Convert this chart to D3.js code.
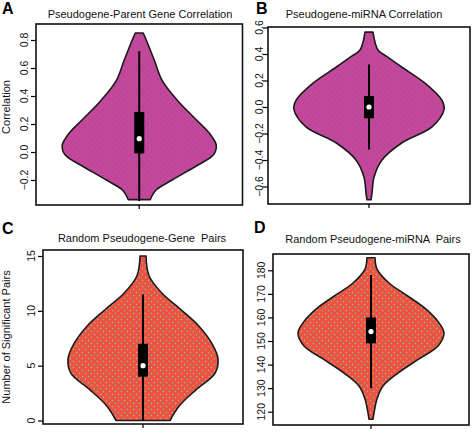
<!DOCTYPE html>
<html><head><meta charset="utf-8">
<script src="https://cdnjs.cloudflare.com/ajax/libs/d3/7.8.5/d3.min.js"></script>
<style>
html,body{margin:0;padding:0;background:#fff;}
svg text{font-family:"Liberation Sans",Arial,Helvetica,sans-serif;}
</style></head>
<body><svg id="c" width="472" height="432"></svg>
<script>
// ---- Data ----
const panelLetters = ["A", "B", "C", "D"];
const panelTitles = ["Pseudogene-Parent Gene Correlation", "Pseudogene-miRNA Correlation",
  "Random Pseudogene-Gene  Pairs", "Random Pseudogene-miRNA  Pairs"];
const yLabels = ["Correlation", "", "Number of Significant Pairs", ""];

// tick labels per panel
const ticksA = [-0.2, 0.0, 0.2, 0.4, 0.6, 0.8];
const ticksB = [-0.6, -0.4, -0.2, 0.0, 0.2, 0.4, 0.6];
const ticksC = [0, 5, 10, 15];
const ticksD = [120, 130, 140, 150, 160, 170, 180];

// violin density profiles: value -> relative density
const valuesA  = [0.85, 0.80, 0.657, 0.51, 0.37, 0.23, 0.135, 0.05, 0.0, -0.035, -0.10, -0.20, -0.27, -0.34];
const densityA = [4, 7, 15, 23, 38, 57, 70, 77, 76, 72, 57, 33, 17, 11];
const valuesB  = [0.565, 0.43, 0.38, 0.30, 0.18, 0.05, -0.02, -0.15, -0.27, -0.40, -0.53, -0.65, -0.70];
const densityB = [4, 9, 18, 33, 56, 73, 75, 63, 33, 13, 5, 3, 2];
const valuesC  = [15, 13.2, 11.6, 10.1, 8.6, 7.0, 5.6, 4.3, 2.8, 1.3, 0];
const densityC = [3, 6, 19, 38, 56, 69, 75, 72, 53, 36, 27];
const valuesD  = [185.3, 180.5, 174.6, 169, 163.5, 157.7, 153.4, 147.9, 142.4, 136.4, 130.9, 125.4, 119.5, 116.8];
const densityD = [4, 6, 18, 37, 55, 68, 73, 67, 48, 27, 12, 6, 3, 2];

// box stats: [whisker low, q1, median, q3, whisker high]
const boxA = [-0.35, -0.01, 0.095, 0.286, 0.72];
const boxB = [-0.32, -0.085, 0.0, 0.083, 0.32];
const boxC = [0, 4, 5, 7, 11.5];
const boxD = [130, 149, 154, 160, 178];

// ---- Layout ----
const panels = [
  {frame:{l:36, t:24, r:242.5, b:205}, dom:[-0.2,0.8], rng:[180,40], ticks:ticksA, fmt:d3.format(".1f"),
   values:valuesA, density:densityA, box:boxA, fill:"url(#dotM)", letter:[2,14], title:[140,18], ylab:[10,107], tlx:28},
  {frame:{l:268, t:27, r:470, b:204}, dom:[-0.6,0.6], rng:[186.5,27.5], ticks:ticksB, fmt:d3.format(".1f"),
   values:valuesB, density:densityB, box:boxB, fill:"url(#dotM)", letter:[256,14], title:[364,18], ylab:null, tlx:262.5},
  {frame:{l:43, t:250, r:243, b:424}, dom:[0,15], rng:[420.5,256], ticks:ticksC, fmt:d3.format("d"),
   values:valuesC, density:densityC, box:boxC, fill:"url(#dotR)", letter:[2,234], title:[142,242], ylab:[10,337], tlx:35},
  {frame:{l:273, t:254, r:469, b:425}, dom:[120,180], rng:[411.7,270.3], ticks:ticksD, fmt:d3.format("d"),
   values:valuesD, density:densityD, box:boxD, fill:"url(#dotR)", letter:[254,233], title:[373,243], ylab:null, tlx:265}
];

const svg = d3.select("#c");
const defs = svg.append("defs");
function dotPattern(id, bg, dot, op) {
  const p = defs.append("pattern").attr("id", id).attr("patternUnits", "userSpaceOnUse")
    .attr("width", 6).attr("height", 6);
  p.append("rect").attr("width", 6).attr("height", 6).attr("fill", bg);
  p.append("circle").attr("cx", 1.5).attr("cy", 1.5).attr("r", 0.65).attr("fill", dot).attr("opacity", op);
  p.append("circle").attr("cx", 4.5).attr("cy", 4.5).attr("r", 0.65).attr("fill", dot).attr("opacity", op);
}
dotPattern("dotM", "#C2489B", "#A83A88", 0.6);
dotPattern("dotR", "#EF5440", "#7CC8B8", 1);

panels.forEach((p, i) => {
  const f = p.frame;
  const g = svg.append("g");
  const y = d3.scaleLinear().domain(p.dom).range(p.rng);
  const x = d3.scaleBand().domain(["x"]).range([f.l, f.r]);
  const cx = x("x") + x.bandwidth() / 2;
  const w = d3.scaleLinear().domain([0, 77]).range([0, 77]);

  const data = p.values.map((v, k) => ({v, d: p.density[k]}));
  const area = d3.area().curve(d3.curveCatmullRom.alpha(0.5))
    .y(d => y(d.v)).x0(d => cx - w(d.d)).x1(d => cx + w(d.d));
  g.append("path").datum(data).attr("d", area)
    .attr("fill", p.fill).attr("stroke", "#1a1a1a").attr("stroke-width", 1.6)
    .attr("stroke-linejoin", "round");

  // whisker
  g.append("line").attr("x1", cx).attr("x2", cx).attr("y1", y(p.box[0])).attr("y2", y(p.box[4]))
    .attr("stroke", "#000").attr("stroke-width", 2);
  // box
  g.append("rect").attr("x", cx - 5).attr("width", 10)
    .attr("y", y(p.box[3])).attr("height", y(p.box[1]) - y(p.box[3])).attr("fill", "#000");
  // median
  g.append("circle").attr("cx", cx).attr("cy", y(p.box[2])).attr("r", 2.6).attr("fill", "#fff");

  // frame
  g.append("rect").attr("x", f.l).attr("y", f.t).attr("width", f.r - f.l).attr("height", f.b - f.t)
    .attr("fill", "none").attr("stroke", "#111").attr("stroke-width", 1.6);

  // y axis
  const ya = d3.axisLeft(y).tickValues(p.ticks).tickFormat(p.fmt).tickSize(5).tickSizeOuter(0);
  const ag = g.append("g").attr("transform", `translate(${f.l},0)`).call(ya);
  ag.select(".domain").remove();
  ag.selectAll(".tick line").attr("stroke", "#000").attr("stroke-width", 1.2);
  ag.selectAll(".tick text").remove();
  g.selectAll(".ytl").data(p.ticks).join("text")
    .attr("transform", d => `translate(${p.tlx},${y(d)}) rotate(-90)`)
    .attr("text-anchor", "middle").attr("font-size", 10.5).attr("fill", "#111")
    .text(d => p.fmt(d).replace("-", "\u2212"));
  // x tick
  const xa = d3.axisBottom(x).tickSize(4).tickFormat("");
  const xg = g.append("g").attr("transform", `translate(0,${f.b})`).call(xa);
  xg.select(".domain").remove();
  xg.selectAll(".tick line").attr("stroke", "#000").attr("stroke-width", 1.2);

  // titles
  g.append("text").attr("x", p.title[0]).attr("y", p.title[1]).attr("text-anchor", "middle")
    .attr("font-size", 11).attr("fill", "#111").style("white-space", "pre").text(panelTitles[i]);
  g.append("text").attr("x", p.letter[0]).attr("y", p.letter[1]).attr("font-size", 16)
    .attr("font-weight", "bold").attr("fill", "#000").text(panelLetters[i]);
  if (p.ylab) {
    g.append("text").attr("transform", `translate(${p.ylab[0]},${p.ylab[1]}) rotate(-90)`)
      .attr("text-anchor", "middle").attr("font-size", 11).attr("fill", "#111").text(yLabels[i]);
  }
});
</script></body></html>
